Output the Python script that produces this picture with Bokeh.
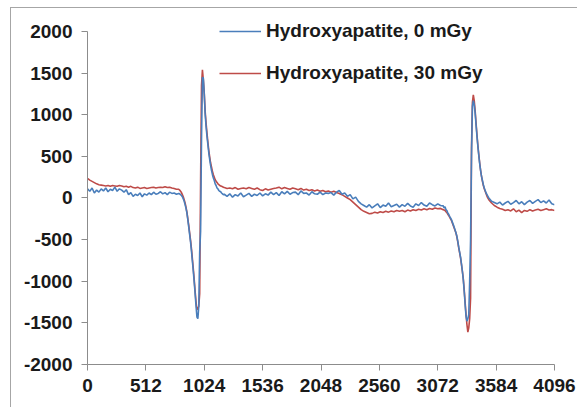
from bokeh.plotting import figure
from bokeh.models import Range1d, FixedTicker, Legend, LegendItem, PrintfTickFormatter
from bokeh.embed import file_html
from bokeh.resources import INLINE

# ---- channel positions (sampling grid of the spectra) ----
x_seg1 = list(range(0, 800, 20))
x_seg2 = list(range(800, 1200, 8))
x_seg3 = list(range(1200, 3120, 24))
x_seg4 = list(range(3120, 3520, 8))
x_seg5 = list(range(3520, 4097, 24))
channels = x_seg1 + x_seg2 + x_seg3 + x_seg4 + x_seg5

# ---- Hydroxyapatite, 0 mGy (blue) ----
blue_seg1 = [110, 80, 120, 60, 95, 70, 110, 85, 120, 75, 105, 90, 130, 80, 110, 95, 70, 100, 40, 65,
             20, 45, 30, 60, 15, 50, 35, 60, 40, 70, 45, 55, 75, 50, 65, 40, 70, 55, 60, 45]
blue_seg2 = [55, 50, 40, 30, 15, -10, -40, -80, -125, -180, -260, -350, -440, -530, -640, -760, -880,
             -1010, -1150, -1300, -1430, -1450, -1300, -650, -400, 700, 1450, 1440, 1250, 1010, 860,
             740, 640, 540, 460, 390, 330, 280, 240, 210, 170, 150, 120, 110, 90, 80, 75, 60, 50, 40]
blue_seg3 = [45, 20, 50, 10, 40, 25, 60, 15, 35, 55, 20, 45, 30,
             60, 25, 50, 35, 70, 40, 65, 30, 75, 50, 80, 45, 65,
             70, 40, 85, 55, 60, 35, 75, 50, 45, 70, 40, 60, 55,
             65, 35, 70, 90, 45, 60, 20, 40, -10, 10, -40, -70, -90,
             -110, -80, -120, -95, -70, -115, -85, -100, -60, -105, -90, -75, -110,
             -80, -100, -65, -95, -110, -70, -90, -55, -85, -100, -60, -80, -95,
             -70, -90]
blue_seg4 = [-95, -120, -105, -140, -150, -180, -195, -220, -240, -260, -290, -320, -350, -385, -420,
             -460, -520, -590, -650, -710, -790, -880, -980, -1120, -1280, -1420, -1480, -1450, -1400,
             -1000, -500, 500, 1100, 1170, 1120, 1020, 880, 740, 620, 510, 410, 330, 260, 210, 160,
             120, 90, 60, 40, 20]
blue_seg5 = [0, -40, -55, -70, -50, -85, -60, -40, -75, -55, -30, -70, -45, -80, -50, -30, -65, -40,
             -20, -55, -35, -60, -25, -70, -80]
blue_values = blue_seg1 + blue_seg2 + blue_seg3 + blue_seg4 + blue_seg5

# ---- Hydroxyapatite, 30 mGy (red) ----
red_seg1 = [235, 215, 200, 185, 170, 160, 155, 150, 145, 150, 140, 150, 145, 140, 150, 145, 135, 140, 130, 140,
            125, 120, 130, 115, 120, 125, 115, 120, 125, 130, 120, 125, 130, 125, 135, 125, 130, 120, 115, 105]
red_seg2 = [105, 95, 80, 65, 40, 15, -20, -60, -110, -170, -250, -330, -420, -510, -610, -730, -850,
            -980, -1120, -1250, -1340, -1330, -1300, -1150, 200, 1350, 1540, 1420, 1260, 1040, 900,
            780, 670, 570, 490, 420, 370, 320, 280, 250, 220, 200, 185, 170, 160, 150, 145, 140, 135, 130]
red_seg3 = [125, 115, 120, 110, 125, 105, 115, 120, 110, 125, 115, 105, 120,
            100, 90, 110, 95, 105, 115, 120, 130, 110, 125, 115, 105, 120,
            110, 100, 115, 95, 105, 90, 100, 85, 95, 80, 90, 75, 85,
            70, 80, 65, 55, 40, 20, 0, -20, -50, -80, -110, -140, -160,
            -175, -190, -185, -170, -180, -165, -175, -160, -170, -155, -165, -150, -160,
            -150, -165, -145, -155, -140, -150, -135, -145, -130, -140, -125, -135, -120,
            -130, -125]
red_seg4 = [-140, -145, -150, -165, -175, -195, -210, -230, -250, -270, -300, -330, -360, -390, -420,
            -470, -530, -600, -660, -720, -800, -880, -970, -1100, -1250, -1400, -1520, -1610, -1560,
            -1450, -1200, 600, 1150, 1240, 1170, 1050, 900, 760, 630, 520, 420, 330, 260, 200, 150,
            110, 80, 50, 20, 0]
red_seg5 = [-20, -60, -90, -110, -125, -135, -150, -140, -155, -130, -165, -145, -175, -150, -160, -140,
            -155, -145, -135, -150, -140, -130, -145, -140, -150]
red_values = red_seg1 + red_seg2 + red_seg3 + red_seg4 + red_seg5

x_ticks = [0, 512, 1024, 1536, 2048, 2560, 3072, 3584, 4096]
y_ticks = [-2000, -1500, -1000, -500, 0, 500, 1000, 1500, 2000]
series_labels = ["Hydroxyapatite, 0 mGy", "Hydroxyapatite, 30 mGy"]

BLUE = "#4a7ebb"
RED = "#be4b48"
FONT = "Liberation Sans"

# frame extends a little above 2000 so the legend's first row is not clipped;
# the y axis line itself is bounded to -2000..2000
p = figure(width=567, height=400, output_backend="svg", toolbar_location=None,
           x_range=Range1d(0, 4096), y_range=Range1d(-2000, 2168),
           min_border_left=76, min_border_right=24, min_border_top=9, min_border_bottom=44)
p.margin = (7, 0, 0, 10)
p.styles = {"border-left": "1px solid #a6a6a6", "border-top": "1px solid #a6a6a6"}
p.outline_line_color = None
p.xgrid.visible = False
p.ygrid.visible = False
p.background_fill_color = "white"
p.border_fill_color = "white"

rr = p.line(channels, red_values, line_color=RED, line_width=1.6)
rb = p.line(channels, blue_values, line_color=BLUE, line_width=1.6)

for ax, ticks in ((p.xaxis[0], x_ticks), (p.yaxis[0], y_ticks)):
    ax.ticker = FixedTicker(ticks=ticks)
    ax.formatter = PrintfTickFormatter(format="%d")
    ax.axis_line_color = "#8c8c8c"
    ax.major_tick_line_color = "#8c8c8c"
    ax.major_tick_out = 6
    ax.major_tick_in = 0
    ax.minor_tick_line_color = None
    ax.major_label_text_font = FONT
    ax.major_label_text_font_style = "bold"
    ax.major_label_text_font_size = "19px"
    ax.major_label_text_color = "#1a1a1a"
p.yaxis[0].bounds = (-2000, 2000)
p.xaxis.major_label_standoff = 8
p.yaxis.major_label_standoff = 9

legend = Legend(items=[LegendItem(label=series_labels[0], renderers=[rb]),
                       LegendItem(label=series_labels[1], renderers=[rr])],
                location=(132, 280), border_line_color=None, background_fill_alpha=0,
                padding=0, margin=0, spacing=20, label_height=20, glyph_height=20,
                glyph_width=42, label_standoff=5, label_text_font=FONT,
                label_text_font_style="bold", label_text_font_size="19px",
                label_text_color="#1a1a1a")
p.add_layout(legend)

open("out.html", "w").write(file_html(p, INLINE))
